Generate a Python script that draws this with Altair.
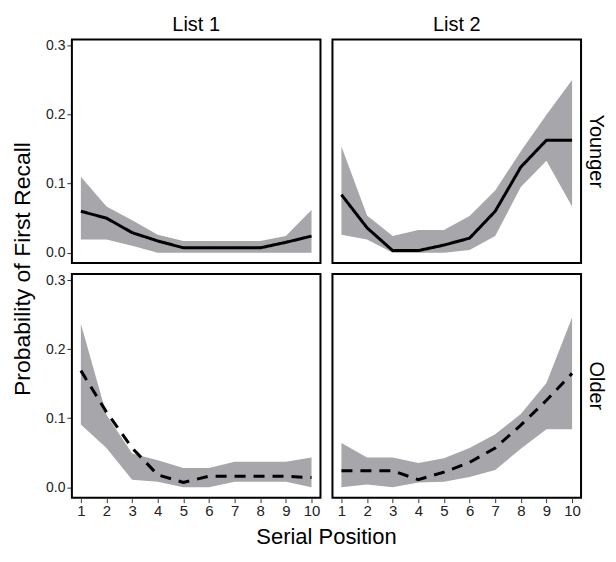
import altair as alt
import pandas as pd

positions = list(range(1, 11))
lists = ["List 1", "List 2"]
ages = ["Younger", "Older"]

# mean, lower, upper per panel
young_l1_mean = [0.060, 0.050, 0.029, 0.017, 0.007, 0.007, 0.007, 0.007, 0.015, 0.024]
young_l1_lo   = [0.019, 0.019, 0.010, 0.000, 0.000, 0.000, 0.000, 0.000, 0.000, 0.000]
young_l1_hi   = [0.110, 0.067, 0.047, 0.026, 0.017, 0.017, 0.017, 0.017, 0.024, 0.062]

young_l2_mean = [0.084, 0.036, 0.003, 0.003, 0.011, 0.021, 0.060, 0.124, 0.163, 0.163]
young_l2_lo   = [0.026, 0.019, 0.000, 0.000, 0.000, 0.004, 0.024, 0.095, 0.133, 0.067]
young_l2_hi   = [0.154, 0.054, 0.024, 0.033, 0.033, 0.053, 0.090, 0.147, 0.200, 0.250]

old_l1_mean = [0.169, 0.109, 0.057, 0.018, 0.007, 0.016, 0.016, 0.016, 0.016, 0.014]
old_l1_lo   = [0.091, 0.057, 0.011, 0.008, 0.000, 0.000, 0.008, 0.008, 0.008, 0.000]
old_l1_hi   = [0.237, 0.105, 0.049, 0.039, 0.028, 0.028, 0.037, 0.037, 0.037, 0.043]

old_l2_mean = [0.024, 0.024, 0.024, 0.011, 0.022, 0.036, 0.057, 0.090, 0.126, 0.165]
old_l2_lo   = [0.000, 0.004, 0.000, 0.007, 0.008, 0.015, 0.025, 0.056, 0.084, 0.084]
old_l2_hi   = [0.064, 0.043, 0.043, 0.035, 0.042, 0.057, 0.077, 0.106, 0.151, 0.246]

panels = [
    ("Younger", "List 1", young_l1_mean, young_l1_lo, young_l1_hi),
    ("Younger", "List 2", young_l2_mean, young_l2_lo, young_l2_hi),
    ("Older", "List 1", old_l1_mean, old_l1_lo, old_l1_hi),
    ("Older", "List 2", old_l2_mean, old_l2_lo, old_l2_hi),
]

rows = []
for age, lst, m, lo, hi in panels:
    for p, a, b, c in zip(positions, m, lo, hi):
        rows.append({"Age": age, "List": lst, "pos": p, "mean": a, "lo": b, "hi": c})
df = pd.DataFrame(rows)

FONT = "Liberation Sans"

x = alt.X("pos:Q", scale=alt.Scale(domain=[0.65, 10.35], nice=False, zero=False),
          axis=alt.Axis(values=positions, title=None, grid=False, labelFontSize=15,
                        labelColor="#222222", tickColor="#333333", tickSize=4,
                        labelPadding=1, domain=False))
y_axis = alt.Axis(values=[0.0, 0.1, 0.2, 0.3], format=".1f", title=None, grid=False,
                  labelFontSize=14, labelColor="#222222", tickColor="#333333",
                  tickSize=4, labelPadding=2, domain=False)

band = alt.Chart().mark_area(color="#a6a6ab", opacity=1).encode(
    x=x,
    y=alt.Y("lo:Q", scale=alt.Scale(domain=[-0.015, 0.309], nice=False, zero=False), axis=y_axis),
    y2="hi:Q",
)
line = alt.Chart().mark_line(color="black", strokeWidth=3).encode(
    x=x,
    y=alt.Y("mean:Q"),
    strokeDash=alt.StrokeDash("Age:N", scale=alt.Scale(domain=ages, range=[[1, 0], [11, 8]]), legend=None),
)

chart = alt.layer(band, line, data=df).properties(width=249, height=224).facet(
    row=alt.Row("Age:N", sort=ages,
                header=alt.Header(title="Probability of First Recall", titleOrient="left",
                                  titleFontSize=23, titleFont=FONT, titleFontWeight="normal",
                                  titleColor="black", titlePadding=0,
                                  labelOrient="right", labelAngle=90, labelFontSize=20,
                                  labelFont=FONT, labelColor="black", labelPadding=4)),
    column=alt.Column("List:N", sort=lists,
                      header=alt.Header(title="Serial Position", titleOrient="bottom",
                                        titleFontSize=22, titleFont=FONT, titleFontWeight="normal",
                                        titleColor="black", titlePadding=-2,
                                        labelOrient="top", labelFontSize=20, labelFont=FONT,
                                        labelColor="black", labelPadding=3)),
    spacing={"row": 9, "column": 10},
).configure_view(stroke="black", strokeWidth=2).configure_axis(
    labelFont=FONT, titleFont=FONT
).properties(padding={"left": 3, "top": 7, "right": 2, "bottom": 0})

chart.save("out.html", embed_options={"renderer": "svg", "actions": False})
